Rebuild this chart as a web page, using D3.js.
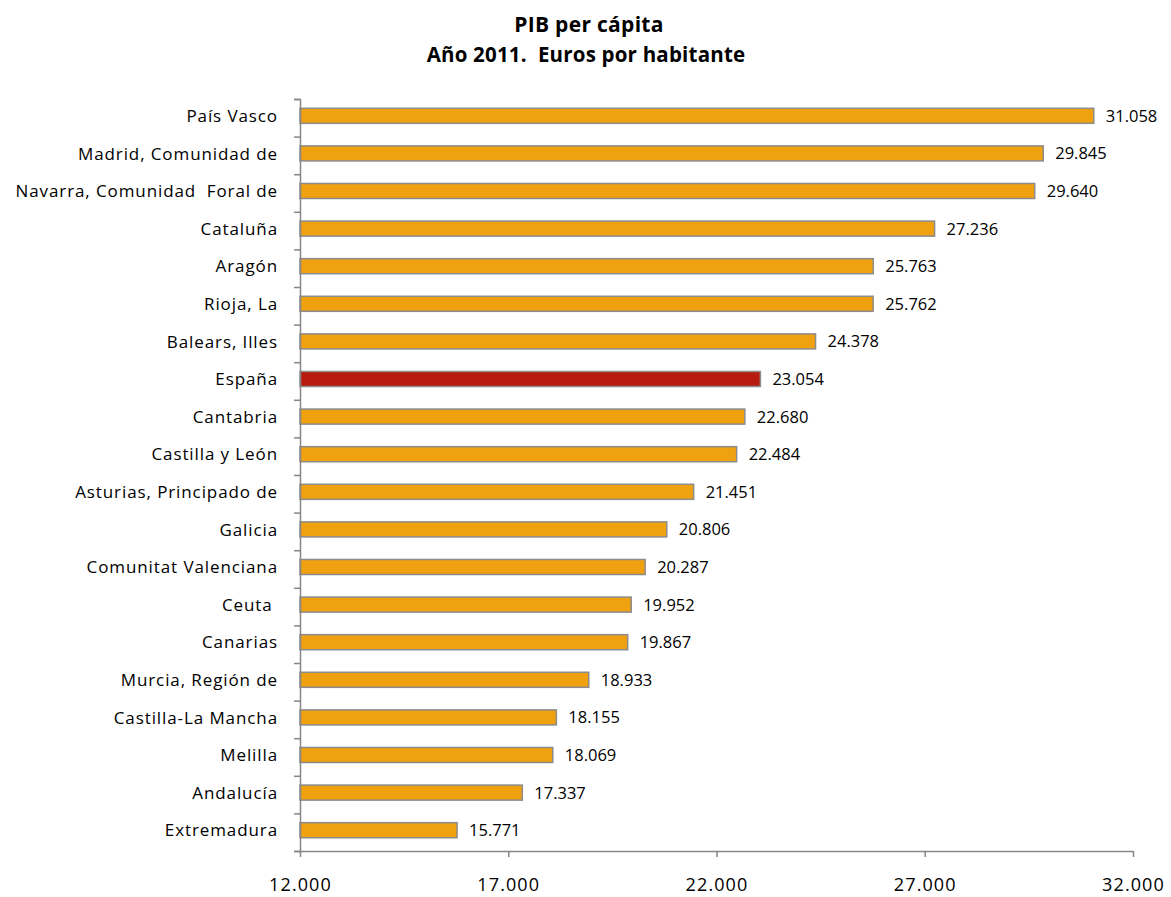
<!DOCTYPE html>
<html>
<head>
<meta charset="utf-8">
<script src="https://cdn.jsdelivr.net/npm/d3@7"></script>
<style>
  body { margin: 0; background: #fff; }
  text { white-space: pre; }
</style>
</head>
<body>
<div id="chart"></div>
<script>
// data
var regions = ["País Vasco", "Madrid, Comunidad de", "Navarra, Comunidad  Foral de", "Cataluña", "Aragón",
    "Rioja, La", "Balears, Illes", "España", "Cantabria", "Castilla y León", "Asturias, Principado de",
    "Galicia", "Comunitat Valenciana", "Ceuta ", "Canarias", "Murcia, Región de", "Castilla-La Mancha",
    "Melilla", "Andalucía", "Extremadura"];
var pib = [31058, 29845, 29640, 27236, 25763, 25762, 24378, 23054, 22680, 22484, 21451,
    20806, 20287, 19952, 19867, 18933, 18155, 18069, 17337, 15771];
var xTicks = [12000, 17000, 22000, 27000, 32000];

var w = 1171, h = 897;
var padLeft = 300, padRight = 1133, padTop = 99, padBottom = 851;

var fmt = d3.formatLocale({decimal: ",", thousands: ".", grouping: [3], currency: ["", "€"]}).format(",");

var svg = d3.select("#chart").append("svg")
    .attr("width", w)
    .attr("height", h)
    .style("font-family", "'Open Sans', sans-serif");

var xScale = d3.scaleLinear()
    .domain([12000, 32000])
    .range([padLeft, padRight]);

// bars sit a touch above the middle of each band
var yScale = d3.scaleBand()
    .domain(regions)
    .range([padTop - 2, padBottom - 2])
    .paddingInner(0.6)
    .paddingOuter(0.3);

// title
svg.append("text")
    .attr("x", 589).attr("y", 32)
    .attr("text-anchor", "middle")
    .attr("font-size", "21px").attr("font-weight", "bold")
    .attr("letter-spacing", "0.3px")
    .text("PIB per cápita");
svg.append("text")
    .attr("x", 586).attr("y", 62)
    .attr("text-anchor", "middle")
    .attr("font-size", "20.5px").attr("font-weight", "bold")
    .attr("letter-spacing", "0.2px")
    .text("Año 2011.  Euros por habitante");

// bars
svg.selectAll("rect.bar")
    .data(pib)
    .enter()
    .append("rect")
    .attr("class", "bar")
    .attr("x", xScale(12000))
    .attr("y", function (d, i) { return yScale(regions[i]); })
    .attr("width", function (d) { return xScale(d) - xScale(12000); })
    .attr("height", yScale.bandwidth())
    .attr("fill", function (d, i) { return regions[i] == "España" ? "#b71c0e" : "#f0a110"; })
    .attr("stroke", "#8c8c8c")
    .attr("stroke-width", 1.5);

// value labels
svg.selectAll("text.val")
    .data(pib)
    .enter()
    .append("text")
    .attr("class", "val")
    .attr("x", function (d) { return xScale(d) + 12; })
    .attr("y", function (d, i) { return yScale(regions[i]) + yScale.bandwidth() / 2; })
    .attr("dy", "0.36em")
    .attr("font-size", "16.5px")
    .attr("fill", "#000")
    .text(function (d) { return fmt(d); });

// y axis
var yAxis = d3.axisLeft(d3.scaleLinear().domain([0, regions.length]).range([padTop, padBottom]))
    .tickValues(d3.range(regions.length + 1))
    .tickSize(6)
    .tickFormat("");
var gy = svg.append("g").attr("transform", "translate(" + padLeft + ",0)").call(yAxis);
gy.selectAll("path,line").attr("stroke", "#868686").attr("stroke-width", 1.5);

svg.selectAll("text.cat")
    .data(regions)
    .enter()
    .append("text")
    .attr("class", "cat")
    .attr("x", 278)
    .attr("y", function (d) { return yScale(d) + yScale.bandwidth() / 2; })
    .attr("dy", "0.36em")
    .attr("text-anchor", "end")
    .attr("font-size", "17px")
    .attr("letter-spacing", "0.9px")
    .text(function (d) { return d; });

// x axis
var xAxis = d3.axisBottom(xScale)
    .tickValues(xTicks)
    .tickSize(6)
    .tickSizeOuter(0)
    .tickFormat(fmt);
var gx = svg.append("g").attr("transform", "translate(0," + padBottom + ")").call(xAxis);
gx.selectAll("path,line").attr("stroke", "#868686").attr("stroke-width", 1.5);
gx.selectAll("text")
    .attr("y", 40).attr("dy", 0)
    .attr("font-size", "18px")
    .attr("letter-spacing", "1.1px")
    .attr("fill", "#000")
    .attr("font-family", "'Open Sans', sans-serif");
</script>
</body>
</html>
